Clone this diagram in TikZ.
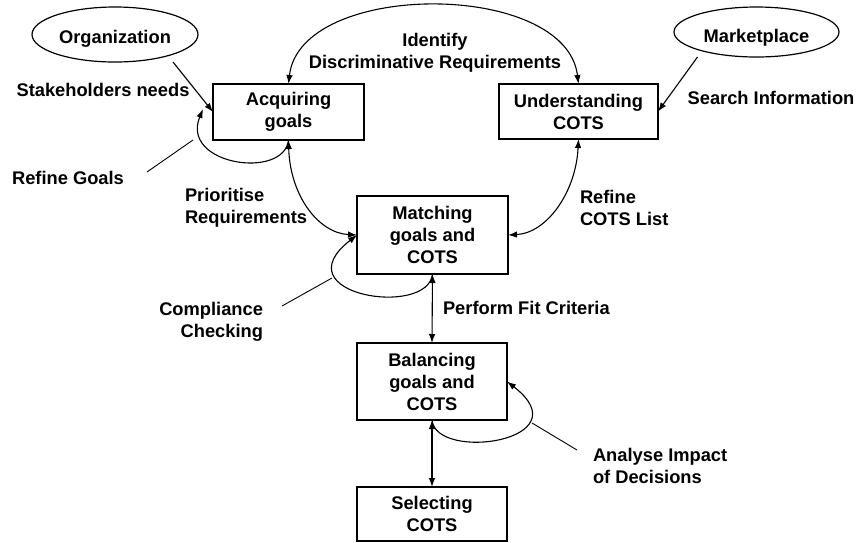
\documentclass[tikz,border=0pt]{standalone}
\usepackage{fontspec}
\setmainfont{Liberation Sans}
\usetikzlibrary{arrows.meta,calc,shapes.geometric}
\begin{document}
\begin{tikzpicture}[x=1pt,y=-1pt,
  every node/.style={font=\fontsize{18.3}{22}\selectfont\bfseries, inner sep=0pt, outer sep=0pt},
  box/.style={draw, line width=1.2pt, align=center},
  actor/.style={draw, ellipse, line width=1.2pt},
  lbl/.style={align=left},
  lblr/.style={align=right},
  conn/.style={line width=1.1pt, -{Latex[length=9pt,width=6.5pt]}},
  both/.style={line width=1.1pt, {Latex[length=9pt,width=6.5pt]}-{Latex[length=9pt,width=6.5pt]}},
  pointer/.style={line width=0.9pt}]
\useasboundingbox (0,0) rectangle (859,542);

% actors (text sits a little below the centre of each ellipse)
\node[actor, minimum width=166pt, minimum height=55pt] (org) at (115,34.5) {\raisebox{-8.5pt}[0pt][0pt]{\makebox[0pt]{Organization}}};
\node[actor, minimum width=165pt, minimum height=50pt] (mkt) at (756.5,32) {\raisebox{-10.5pt}[0pt][0pt]{\makebox[0pt]{Marketplace}}};

% activities
\node[box, minimum width=151pt, minimum height=56pt] (acq) at (288.5,112) {Acquiring\\goals};
\node[box, minimum width=159pt, minimum height=55pt] (und) at (578.5,111.5) {Understanding\\COTS};
\node[box, minimum width=151pt, minimum height=78pt] (mat) at (432.5,235) {Matching\\goals and\\COTS};
\node[box, minimum width=150pt, minimum height=77pt] (bal) at (432,381.5) {Balancing\\goals and\\COTS};
\node[box, minimum width=150pt, minimum height=54pt] (sel) at (432,514) {Selecting\\COTS};

% labels
\node (lsh) at (103,90) {Stakeholders needs};
\node[align=center] (lid) at (435,53) {Identify\\Discriminative Requirements};
\node (lsi) at (771,98) {Search Information};
\node (lrg) at (68,178) {Refine Goals};
\node[lbl, anchor=west] (lpr) at (185,208) {Prioritise\\Requirements};
\node[lbl, anchor=west] (lrc) at (580,208) {Refine\\COTS List};
\node[lblr, anchor=east] (lcc) at (263,322) {Compliance\\Checking};
\node[anchor=west] (lpf) at (443,308) {Perform Fit Criteria};
\node[lbl, anchor=west] (lai) at (593,466) {Analyse Impact\\of Decisions};

% free ends of the loops and the label pointers
\coordinate (rgend) at (203,109);
\coordinate (rga) at (147,172);
\coordinate (rgb) at (193,140);
\coordinate (cca) at (282,306);
\coordinate (ccb) at (332,278);
\coordinate (aia) at (577,450);
\coordinate (aib) at (532,423);

% inputs from the actors
\draw[conn] ($(org.south)+(58,0)$) -- (acq.west);
\draw[conn] ($(mkt.south)+(-59,0)$) -- (und.east);

% identify discriminative requirements
\draw[both] (acq.north) .. controls (300,-20) and (566,-20) .. (und.north);

% refine goals loop
\draw[conn] (acq.south) .. controls (284,180) and (180,165) .. (rgend);
\draw[pointer] (rga) -- (rgb);

% prioritise requirements / refine COTS list
\draw[both] (acq.south) .. controls (290,195) and (318,233) .. (mat.west);
\draw[both] (und.south) .. controls (576,192) and (547,233) .. (mat.east);

% compliance checking loop
\draw[conn] (mat.south) .. controls (428,318) and (280,295) .. (mat.west);
\draw[pointer] (cca) -- (ccb);

% perform fit criteria
\draw[both] (mat.south) -- (bal.north);

% analyse impact of decisions loop
\draw[conn] (bal.south) .. controls (436,462) and (584,441) .. (bal.east);
\draw[pointer] (aia) -- (aib);

% selection
\draw[both] (bal.south) -- (sel.north);
\end{tikzpicture}
\end{document}
